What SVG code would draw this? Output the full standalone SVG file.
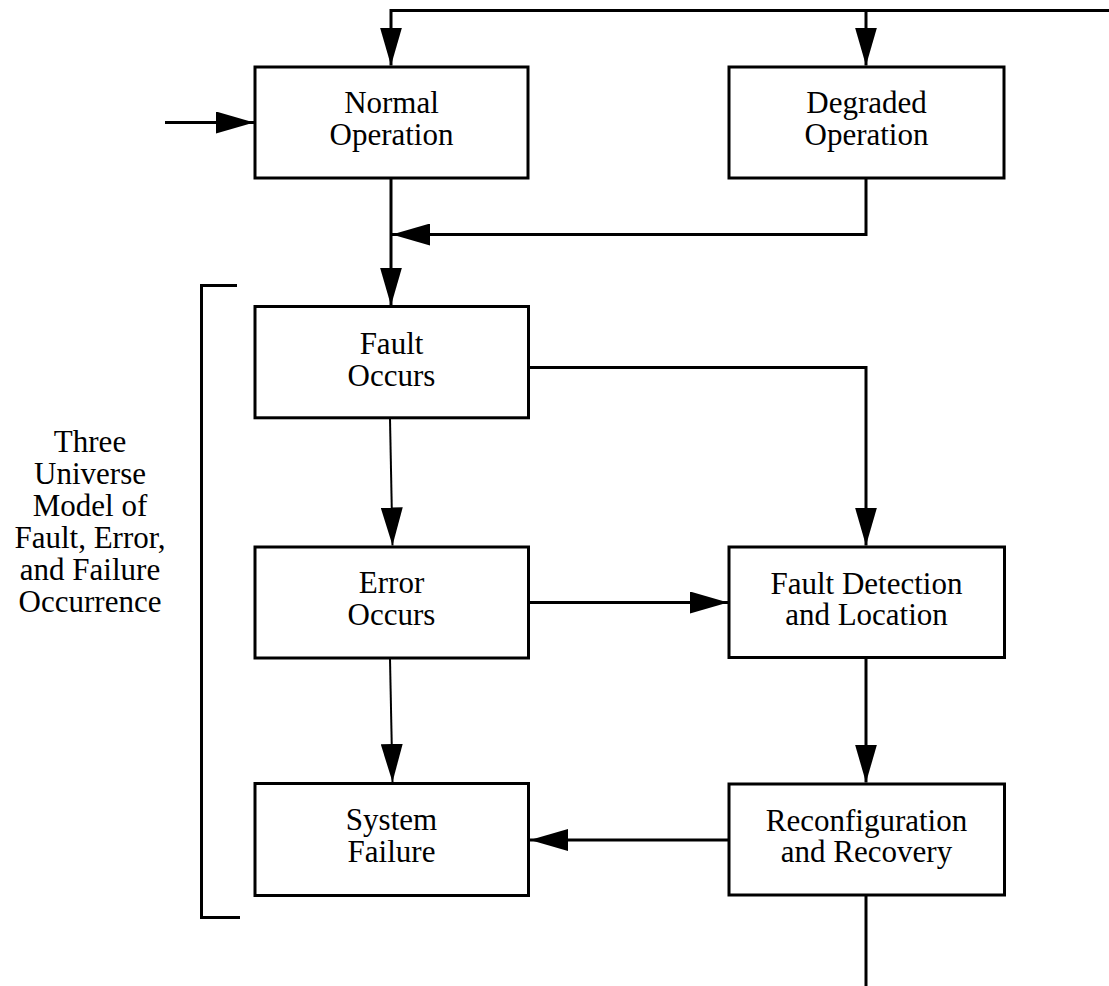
<svg xmlns="http://www.w3.org/2000/svg" width="1109" height="986" viewBox="0 0 1109 986">
  <style>
    .box { fill: #fff; stroke: #000; stroke-width: 3; }
    .lbl { font-family: "Liberation Serif", "Times New Roman", serif; font-size: 31px; fill: #000; text-anchor: middle; }
    .wire { fill: none; stroke: #000; stroke-width: 3; }
    .thin { fill: none; stroke: #000; stroke-width: 2; }
  </style>
  <defs>
    <marker id="head" markerUnits="userSpaceOnUse" markerWidth="38" markerHeight="22" refX="38" refY="11" orient="auto" viewBox="0 0 38 22">
      <path d="M0,0 L38,11 L0,22 Z" fill="#000"/>
    </marker>
  </defs>

  <!-- connectors -->
  <g id="connectors">
    <line class="wire" x1="165" y1="122.5" x2="254" y2="122.5" marker-end="url(#head)"/>
    <polyline class="wire" points="1109,10.5 391,10.5 391,65.5" marker-end="url(#head)"/>
    <line class="wire" x1="866" y1="10.5" x2="866" y2="65.5" marker-end="url(#head)"/>
    <line class="wire" x1="391" y1="178" x2="391" y2="305.5" marker-end="url(#head)"/>
    <polyline class="wire" points="866,178 866,234.5 392,234.5" marker-end="url(#head)"/>
    <polyline class="wire" points="529,367.5 866,367.5 866,545.5" marker-end="url(#head)"/>
    <line class="thin" x1="390" y1="419" x2="392.5" y2="545.5" marker-end="url(#head)"/>
    <line class="wire" x1="529" y1="602.5" x2="728" y2="602.5" marker-end="url(#head)"/>
    <line class="thin" x1="390" y1="659" x2="392.5" y2="782" marker-end="url(#head)"/>
    <line class="wire" x1="866" y1="658" x2="866" y2="782.5" marker-end="url(#head)"/>
    <line class="wire" x1="728" y1="840" x2="530" y2="840" marker-end="url(#head)"/>
    <line class="wire" x1="866" y1="895" x2="866" y2="986"/>
  </g>

  <!-- bracket and its caption -->
  <g id="bracket">
    <path class="wire" d="M237,285.5 H201.5 V917.5 H240"/>
    <text class="lbl" x="90"><tspan x="90" y="452">Three</tspan><tspan x="90" y="484">Universe</tspan><tspan x="90" y="516">Model of</tspan><tspan x="90" y="548">Fault, Error,</tspan><tspan x="90" y="580">and Failure</tspan><tspan x="90" y="612">Occurrence</tspan></text>
  </g>

  <g id="normal">
    <rect class="box" x="255" y="67" width="273" height="111"/>
    <text class="lbl"><tspan x="391.5" y="113">Normal</tspan><tspan x="391.5" y="145">Operation</tspan></text>
  </g>
  <g id="degraded">
    <rect class="box" x="729" y="67" width="275" height="111"/>
    <text class="lbl"><tspan x="866.5" y="113">Degraded</tspan><tspan x="866.5" y="145">Operation</tspan></text>
  </g>
  <g id="fault">
    <rect class="box" x="255" y="306.5" width="273.5" height="111.3"/>
    <text class="lbl"><tspan x="391.5" y="354">Fault</tspan><tspan x="391.5" y="386">Occurs</tspan></text>
  </g>
  <g id="error">
    <rect class="box" x="255" y="547" width="273.5" height="111"/>
    <text class="lbl"><tspan x="391.5" y="593">Error</tspan><tspan x="391.5" y="625">Occurs</tspan></text>
  </g>
  <g id="failure">
    <rect class="box" x="255" y="783.5" width="273.5" height="112"/>
    <text class="lbl"><tspan x="391.5" y="830">System</tspan><tspan x="391.5" y="862">Failure</tspan></text>
  </g>
  <g id="detection">
    <rect class="box" x="729" y="547" width="275.5" height="110.5"/>
    <text class="lbl"><tspan x="866.5" y="594">Fault Detection</tspan><tspan x="866.5" y="625">and Location</tspan></text>
  </g>
  <g id="recovery">
    <rect class="box" x="729" y="784" width="275.5" height="111"/>
    <text class="lbl"><tspan x="866.5" y="831">Reconfiguration</tspan><tspan x="866.5" y="862">and Recovery</tspan></text>
  </g>
</svg>
